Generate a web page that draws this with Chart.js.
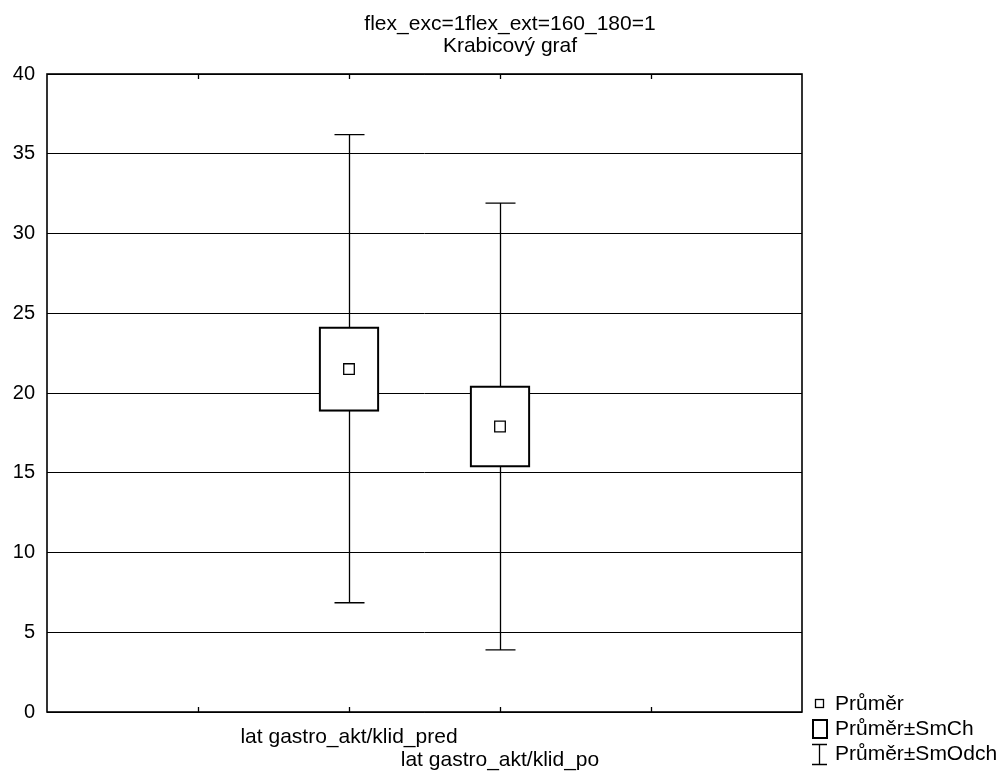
<!DOCTYPE html>
<html>
<head>
<meta charset="utf-8">
<script src="https://cdn.jsdelivr.net/npm/chart.js@4.4.1/dist/chart.umd.min.js"></script>
<style>
  html, body { margin: 0; padding: 0; background: #fff; }
  #wrap { width: 1006px; height: 773px; position: relative; }
</style>
</head>
<body>
<div id="wrap"><canvas id="boxChart"></canvas></div>
<script>
// data
const categories = ['lat gastro_akt/klid_pred', 'lat gastro_akt/klid_po'];
const catPos = [2, 3];
const means = [21.5, 17.9];
const seLow = [18.85, 15.35];
const seHigh = [24.15, 20.45];
const sdLow = [6.85, 3.9];
const sdHigh = [36.2, 31.9];
const yTicks = [0, 5, 10, 15, 20, 25, 30, 35, 40];
const legendNames = ['Průměr', 'Průměr±SmCh', 'Průměr±SmOdch'];
const titleLines = ['flex_exc=1flex_ext=160_180=1', 'Krabicový graf'];

const FONT = '"Liberation Sans", Arial, sans-serif';

// whiskers, frame, inner tick marks, title and legend
const boxExtras = {
    id: 'boxExtras',
    beforeDatasetsDraw(chart) {
        const ctx = chart.ctx;
        const x = chart.scales.x, y = chart.scales.y;
        ctx.save();
        ctx.strokeStyle = '#000';
        ctx.lineWidth = 1.3;
        catPos.forEach((c, i) => {
            const px = Math.round(x.getPixelForValue(c)) + 0.5;
            const top = y.getPixelForValue(sdHigh[i]);
            const bot = y.getPixelForValue(sdLow[i]);
            ctx.beginPath();
            ctx.moveTo(px, top);
            ctx.lineTo(px, bot);
            ctx.moveTo(px - 15, top);
            ctx.lineTo(px + 15, top);
            ctx.moveTo(px - 15, bot);
            ctx.lineTo(px + 15, bot);
            ctx.stroke();
        });
        ctx.restore();
    },
    afterDraw(chart) {
        const ctx = chart.ctx;
        const a = chart.chartArea;
        const x = chart.scales.x;
        ctx.save();
        ctx.strokeStyle = '#000';
        ctx.lineWidth = 1.6;
        ctx.strokeRect(a.left, a.top, a.right - a.left, a.bottom - a.top);
        ctx.lineWidth = 1.3;
        ctx.beginPath();
        for (let v = 1; v <= 4; v++) {
            const px = Math.round(x.getPixelForValue(v)) + 0.5;
            ctx.moveTo(px, a.top);
            ctx.lineTo(px, a.top + 5);
            ctx.moveTo(px, a.bottom);
            ctx.lineTo(px, a.bottom - 5);
        }
        ctx.stroke();

        ctx.fillStyle = '#000';
        ctx.textBaseline = 'middle';
        ctx.font = '21px ' + FONT;

        // title
        ctx.textAlign = 'center';
        ctx.fillText(titleLines[0], 510, 24);
        ctx.fillText(titleLines[1], 510, 46);

        // legend
        const lx = a.right + 8;
        const rows = [704, 729, 754];
        ctx.textAlign = 'left';
        legendNames.forEach((name, i) => {
            ctx.fillText(name, lx + 25, rows[i]);
        });
        ctx.lineWidth = 1.3;
        ctx.strokeRect(lx + 5.5, rows[0] - 4.5, 8, 8);
        ctx.lineWidth = 2;
        ctx.strokeRect(lx + 3, rows[1] - 9, 14, 18);
        ctx.lineWidth = 1.3;
        ctx.beginPath();
        ctx.moveTo(lx + 2, rows[2] - 9.5);
        ctx.lineTo(lx + 17, rows[2] - 9.5);
        ctx.moveTo(lx + 9.5, rows[2] - 9.5);
        ctx.lineTo(lx + 9.5, rows[2] + 10.5);
        ctx.moveTo(lx + 2, rows[2] + 10.5);
        ctx.lineTo(lx + 17, rows[2] + 10.5);
        ctx.stroke();
        ctx.restore();
    }
};

new Chart(document.getElementById('boxChart'), {
    type: 'bar',
    data: {
        datasets: [
            {
                type: 'scatter',
                label: legendNames[0],
                order: 0,
                data: catPos.map((c, i) => ({ x: c, y: means[i] })),
                pointStyle: 'rect',
                pointRadius: 7.5,
                pointBackgroundColor: '#fff',
                pointBorderColor: '#000',
                pointBorderWidth: 1.3
            },
            {
                type: 'bar',
                label: legendNames[1],
                order: 1,
                data: catPos.map((c, i) => ({ x: c, y: [seLow[i], seHigh[i]] })),
                backgroundColor: '#fff',
                borderColor: '#000',
                borderWidth: 2.2,
                borderSkipped: false,
                barThickness: 60
            }
        ]
    },
    options: {
        responsive: true,
        maintainAspectRatio: false,
        animation: false,
        layout: { padding: { top: 74, right: 204, left: 0, bottom: 0 } },
        plugins: {
            legend: { display: false },
            tooltip: { enabled: false },
            title: { display: false }
        },
        scales: {
            x: {
                type: 'linear',
                min: 0,
                max: 5,
                offset: false,
                afterFit(scale) { scale.height = 61; },
                grid: { display: false, drawTicks: false, offset: false },
                border: { display: false },
                ticks: {
                    stepSize: 1,
                    padding: 13.5,
                    color: '#000',
                    maxRotation: 0,
                    autoSkip: false,
                    font: { family: FONT, size: 21, lineHeight: 1.1 },
                    callback(v) {
                        const i = catPos.indexOf(v);
                        if (i < 0) return '';
                        return i % 2 === 0 ? categories[i] : ['', categories[i]];
                    }
                }
            },
            y: {
                min: yTicks[0],
                max: yTicks[yTicks.length - 1],
                afterFit(scale) { scale.width = 47; },
                afterBuildTicks(scale) { scale.ticks = yTicks.map(v => ({ value: v })); },
                grid: { color: '#000', lineWidth: 1, drawTicks: false },
                border: { display: false },
                ticks: {
                    padding: 12,
                    color: '#000',
                    font: { family: FONT, size: 20 }
                }
            }
        }
    },
    plugins: [boxExtras]
});
</script>
</body>
</html>
